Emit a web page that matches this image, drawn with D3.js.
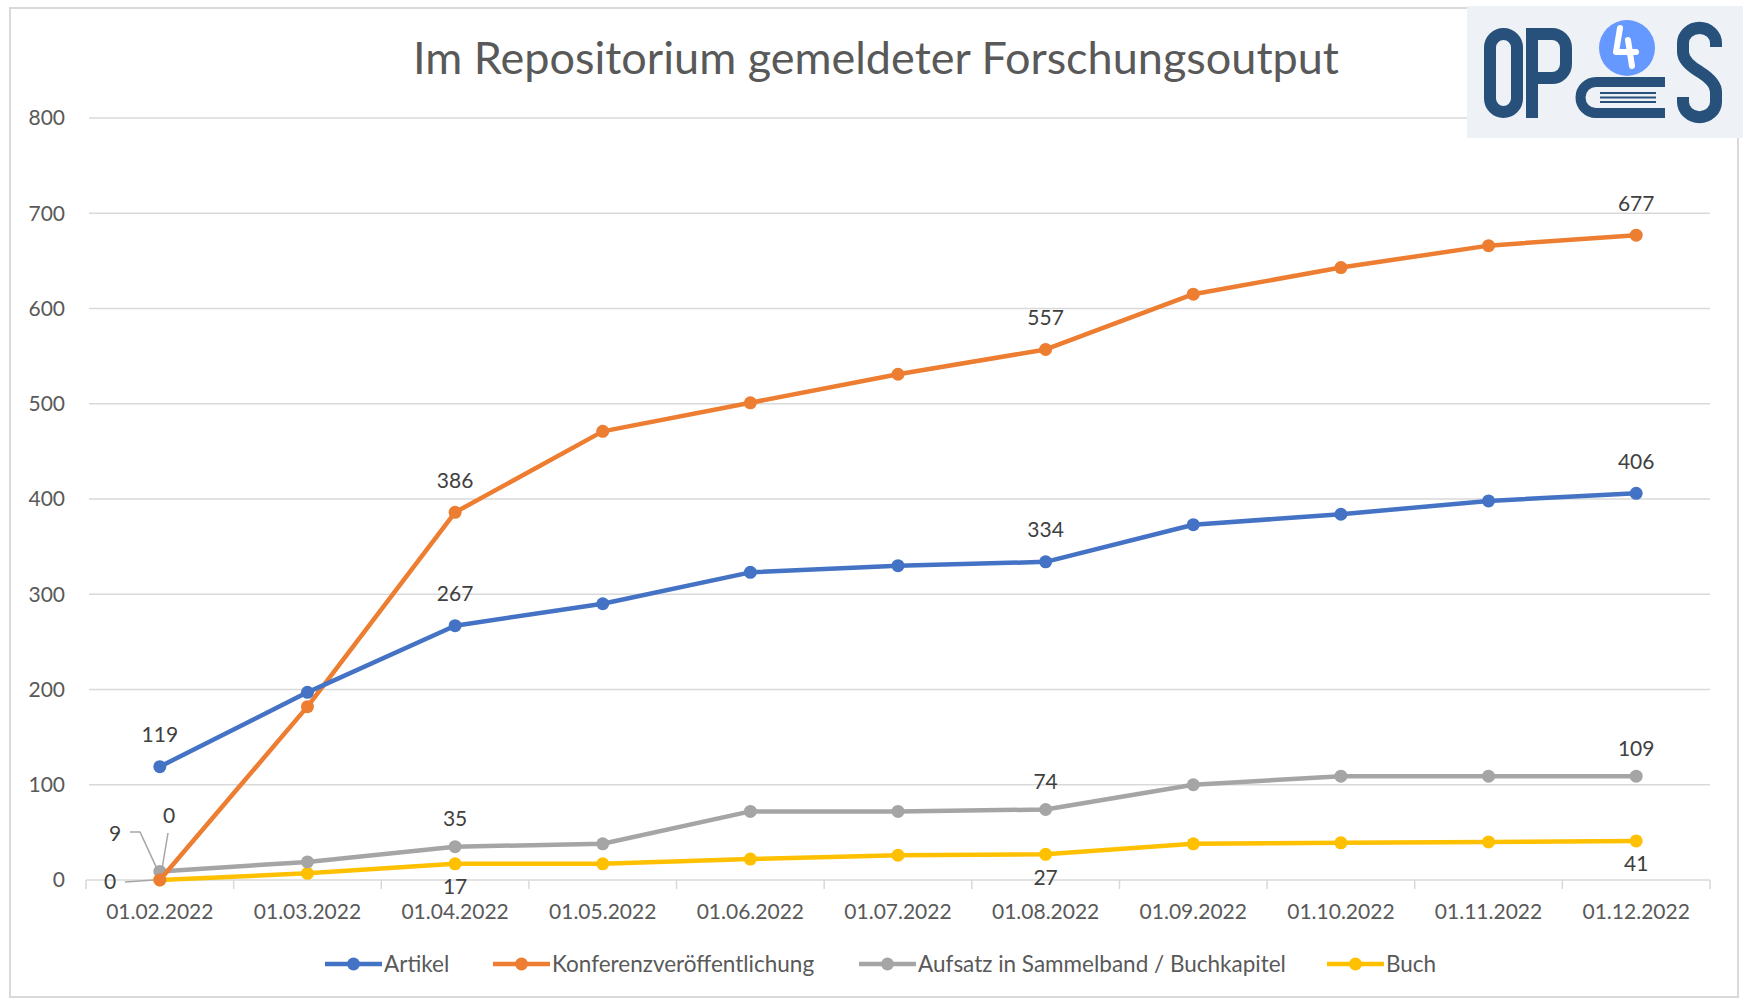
<!DOCTYPE html>
<html>
<head>
<meta charset="utf-8">
<script src="https://cdn.jsdelivr.net/npm/d3@7"></script>
<style>
  body { margin: 0; background: #fff; }
  svg { display: block; }
  text { font-family: Lato, "Open Sans", sans-serif; }
</style>
</head>
<body>
<script>
const width = 1743
const height = 999
const margin = { top: 118, right: 33, bottom: 119, left: 86 }

const dates = ['01.02.2022', '01.03.2022', '01.04.2022', '01.05.2022', '01.06.2022', '01.07.2022',
  '01.08.2022', '01.09.2022', '01.10.2022', '01.11.2022', '01.12.2022']
const yTicks = [0, 100, 200, 300, 400, 500, 600, 700, 800]

const artikel = [119, 197, 267, 290, 323, 330, 334, 373, 384, 398, 406]
const konferenz = [0, 182, 386, 471, 501, 531, 557, 615, 643, 666, 677]
const aufsatz = [9, 19, 35, 38, 72, 72, 74, 100, 109, 109, 109]
const buch = [0, 7, 17, 17, 22, 26, 27, 38, 39, 40, 41]

const series = [
  { name: 'Artikel', values: artikel, color: '#4472C4', labels: [0, 2, 6, 10], off: -32 },
  { name: 'Konferenzveröffentlichung', values: konferenz, color: '#ED7D31', labels: [2, 6, 10], off: -32 },
  { name: 'Aufsatz in Sammelband / Buchkapitel', values: aufsatz, color: '#A5A5A5', labels: [2, 6, 10], off: -28 },
  { name: 'Buch', values: buch, color: '#FFC000', labels: [2, 6, 10], off: 23 }
]

const svg = d3.select('body').append('svg')
  .attr('width', width)
  .attr('height', height)

// chart frame
svg.append('rect')
  .attr('x', 10).attr('y', 8)
  .attr('width', 1728).attr('height', 989)
  .attr('fill', '#fff')
  .attr('stroke', '#d9d9d9')
  .attr('stroke-width', 2)

const x = d3.scaleBand()
  .domain(dates)
  .range([margin.left, width - margin.right])
const cx = d => x(d) + x.bandwidth() / 2

const y = d3.scaleLinear()
  .domain([0, 800])
  .range([height - margin.bottom, margin.top])

// gridlines
svg.append('g')
  .selectAll('line')
  .data(yTicks.filter(d => d > 0))
  .join('line')
  .attr('x1', 89).attr('x2', width - margin.right)
  .attr('y1', d => y(d)).attr('y2', d => y(d))
  .attr('stroke', '#d9d9d9')
  .attr('stroke-width', 1.5)

// y labels
svg.append('g')
  .selectAll('text')
  .data(yTicks)
  .join('text')
  .attr('x', 65)
  .attr('y', d => y(d))
  .attr('dy', '0.35em')
  .attr('text-anchor', 'end')
  .attr('fill', '#595959')
  .attr('font-size', 21)
  .text(d => d)

// x axis
const xAxis = svg.append('g')
svg.append('line')
  .attr('x1', margin.left).attr('x2', width - margin.right)
  .attr('y1', y(0)).attr('y2', y(0))
  .attr('stroke', '#d9d9d9').attr('stroke-width', 1.5)
xAxis.selectAll('line')
  .data(dates.concat(['end']))
  .join('line')
  .attr('x1', (d, i) => margin.left + i * x.step())
  .attr('x2', (d, i) => margin.left + i * x.step())
  .attr('y1', y(0)).attr('y2', y(0) + 9)
  .attr('stroke', '#d9d9d9').attr('stroke-width', 1.5)
xAxis.selectAll('text')
  .data(dates)
  .join('text')
  .attr('x', cx)
  .attr('y', y(0) + 32)
  .attr('dy', '0.35em')
  .attr('text-anchor', 'middle')
  .attr('fill', '#595959')
  .attr('font-size', 21)
  .text(d => d)

// leader lines for the small labels at the start
const leaders = svg.append('g').attr('fill', 'none').attr('stroke', '#a6a6a6').attr('stroke-width', 1.5)
leaders.append('path').attr('d', `M130,832 H140 L${cx(dates[0]) - 3},${y(aufsatz[0]) - 3}`)
leaders.append('path').attr('d', `M168,833 L${cx(dates[0]) + 2},${y(konferenz[0]) - 10}`)
leaders.append('path').attr('d', `M125,882 L${cx(dates[0]) - 6},${y(buch[0])}`)

const line = d3.line()
  .x((d, i) => cx(dates[i]))
  .y(d => y(d))

// draw series from back to front like the reference
const drawOrder = [series[3], series[2], series[1], series[0]]
drawOrder.forEach(s => {
  const g = svg.append('g')
  g.append('path')
    .datum(s.values)
    .attr('d', line)
    .attr('fill', 'none')
    .attr('stroke', s.color)
    .attr('stroke-width', 4.5)
    .attr('stroke-linejoin', 'round')
  g.selectAll('circle')
    .data(s.values)
    .join('circle')
    .attr('cx', (d, i) => cx(dates[i]))
    .attr('cy', d => y(d))
    .attr('r', 6.5)
    .attr('fill', s.color)
})

// data labels
series.forEach(s => {
  svg.append('g')
    .selectAll('text')
    .data(s.labels)
    .join('text')
    .attr('x', i => cx(dates[i]))
    .attr('y', i => y(s.values[i]) + s.off)
    .attr('dy', '0.35em')
    .attr('text-anchor', 'middle')
    .attr('fill', '#404040')
    .attr('font-size', 21)
    .text(i => s.values[i])
})
const special = [
  { x: 169, y: 816, v: konferenz[0] },
  { x: 115, y: 834, v: aufsatz[0] },
  { x: 110, y: 882, v: buch[0] }
]
svg.append('g')
  .selectAll('text')
  .data(special)
  .join('text')
  .attr('x', d => d.x).attr('y', d => d.y)
  .attr('dy', '0.35em')
  .attr('text-anchor', 'middle')
  .attr('fill', '#404040')
  .attr('font-size', 21)
  .text(d => d.v)

// title
svg.append('text')
  .attr('x', 876)
  .attr('y', 58)
  .attr('dy', '0.35em')
  .attr('text-anchor', 'middle')
  .attr('fill', '#595959')
  .attr('font-size', 45)
  .text('Im Repositorium gemeldeter Forschungsoutput')

// legend
const legendX = [325, 493, 859, 1327]
const legend = svg.append('g')
series.forEach((s, i) => {
  const lg = legend.append('g').attr('transform', `translate(${legendX[i]},964)`)
  lg.append('line').attr('x1', 0).attr('x2', 57)
    .attr('stroke', s.color).attr('stroke-width', 4.5)
  lg.append('circle').attr('cx', 28.5).attr('r', 6.5).attr('fill', s.color)
  lg.append('text').attr('x', 59).attr('dy', '0.35em')
    .attr('fill', '#595959').attr('font-size', 22.5)
    .text(s.name)
})

// OP4S logo
const logo = svg.append('g')
logo.append('rect')
  .attr('x', 1467).attr('y', 6).attr('width', 276).attr('height', 132)
  .attr('fill', '#eef2f7')
const navy = '#27507a'
logo.append('rect').attr('x', 1490).attr('y', 34).attr('width', 27).attr('height', 78)
  .attr('rx', 13.5).attr('fill', 'none').attr('stroke', navy).attr('stroke-width', 12)
logo.append('path')
  .attr('d', 'M1532,118 V34 H1552 A14,14 0 0 1 1566,48 V64 A14,14 0 0 1 1552,78 H1532')
  .attr('fill', 'none').attr('stroke', navy).attr('stroke-width', 12)
logo.append('circle').attr('cx', 1627).attr('cy', 48).attr('r', 28).attr('fill', '#6699ff')
logo.append('path')
  .attr('d', 'M1620,28 L1616,52 H1636 M1628,40 L1632,66')
  .attr('fill', 'none').attr('stroke', '#fff').attr('stroke-width', 6)
  .attr('stroke-linecap', 'round').attr('stroke-linejoin', 'round')
logo.append('path')
  .attr('d', 'M1665,82 H1596 A15,15 0 0 0 1596,113 H1665')
  .attr('fill', 'none').attr('stroke', navy).attr('stroke-width', 10)
;[93, 97.5, 102].forEach(yy => {
  logo.append('line').attr('x1', 1600).attr('x2', 1656)
    .attr('y1', yy).attr('y2', yy).attr('stroke', navy).attr('stroke-width', 2)
})
logo.append('path')
  .attr('d', 'M1716,47 V43 A12,11 0 0 0 1683,43 V52 Q1683,62 1700,72 Q1716,82 1716,92 V102 A12,11 0 0 1 1683,102 V97')
  .attr('fill', 'none').attr('stroke', navy).attr('stroke-width', 12)
</script>
</body>
</html>
